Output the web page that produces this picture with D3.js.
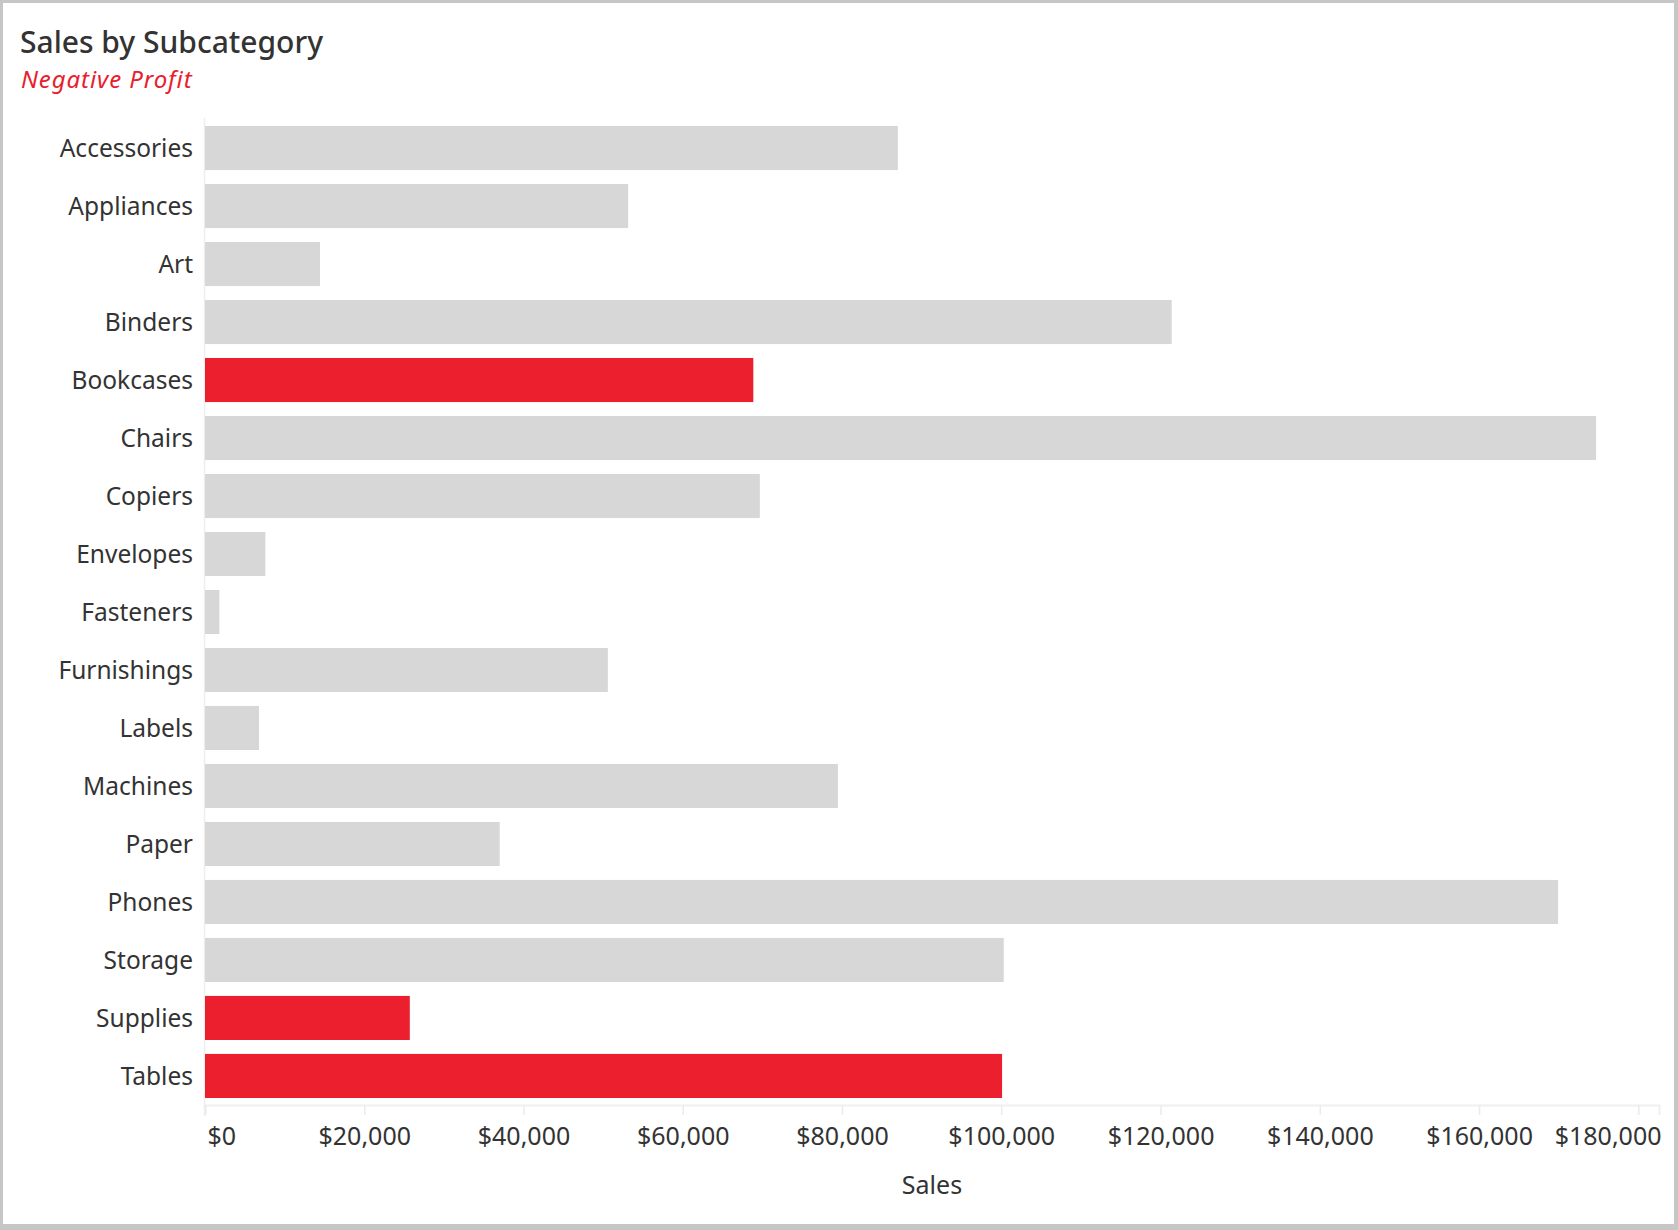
<!DOCTYPE html>
<html>
<head>
<meta charset="utf-8">
<script src="https://cdn.jsdelivr.net/npm/d3@7"></script>
<style>
  body { margin: 0; background: #fff; }
  text { font-family: "Noto Sans", sans-serif; }
</style>
</head>
<body>
<svg id="chart" width="1678" height="1230"></svg>
<script>
// Sales by subcategory, red = negative profit
var subcategories = ["Accessories", "Appliances", "Art", "Binders", "Bookcases", "Chairs", "Copiers",
  "Envelopes", "Fasteners", "Furnishings", "Labels", "Machines", "Paper", "Phones", "Storage",
  "Supplies", "Tables"];
var sales = [87010, 53140, 14440, 121400, 68860, 174700, 69680, 7580, 1810, 50590, 6780, 79480,
  37010, 169930, 100310, 25720, 100100];
var negativeProfit = ["Bookcases", "Supplies", "Tables"];
var xTicks = [0, 20000, 40000, 60000, 80000, 100000, 120000, 140000, 160000, 180000];

var data = subcategories.map(function (d, i) {
  return { name: d, sales: sales[i], neg: negativeProfit.indexOf(d) >= 0 };
});

var svg = d3.select("#chart");

// frame
svg.append("rect").attr("width", 1678).attr("height", 1230).attr("fill", "#c6c6c6");
svg.append("rect").attr("x", 3).attr("y", 3).attr("width", 1671).attr("height", 1221).attr("fill", "#fff");

svg.append("text").attr("x", 20).attr("y", 53)
  .attr("font-size", 30).attr("font-weight", 500).attr("fill", "#333")
  .text("Sales by Subcategory");
svg.append("text").attr("x", 21).attr("y", 88)
  .attr("font-size", 24).attr("font-style", "italic").attr("letter-spacing", 0.9)
  .attr("fill", "#e8202e")
  .text("Negative Profit");

var x = d3.scaleLinear().domain([0, 182600]).range([205, 1659]);
var y = d3.scaleBand().domain(subcategories).range([118, 1106])
  .paddingInner(0.24).paddingOuter(0.138);

// left zero line
svg.append("line").attr("x1", 204.5).attr("x2", 204.5).attr("y1", 118).attr("y2", 1116)
  .attr("stroke", "#eeeeee").attr("stroke-width", 1.5);

svg.append("g").selectAll("rect")
  .data(data)
  .join("rect")
  .attr("x", x(0))
  .attr("y", function (d) { return y(d.name); })
  .attr("width", function (d) { return x(d.sales) - x(0); })
  .attr("height", y.bandwidth())
  .attr("fill", function (d) { return d.neg ? "#eb1f2d" : "#d7d7d7"; });

// category labels
svg.append("g").selectAll("text")
  .data(subcategories)
  .join("text")
  .attr("x", 193)
  .attr("y", function (d) { return y(d) + y.bandwidth() / 2; })
  .attr("dy", "0.36em")
  .attr("text-anchor", "end")
  .attr("font-size", 24.5)
  .attr("fill", "#333")
  .text(function (d) { return d; });

// x axis
var xAxis = d3.axisBottom(x)
  .tickValues(xTicks)
  .tickSize(10)
  .tickPadding(12)
  .tickFormat(function (d) { return "$" + d3.format(",")(d); });

var gx = svg.append("g").attr("transform", "translate(0,1105)").call(xAxis);
gx.select(".domain").attr("stroke", "#f0f0f0").attr("stroke-width", 2);
gx.selectAll(".tick line").attr("stroke", "#ebebeb").attr("stroke-width", 1.5);
gx.selectAll(".tick text")
  .attr("font-size", 25)
  .attr("font-family", "Noto Sans, sans-serif")
  .attr("fill", "#333");
// first label starts at the tick, last one stays inside the plot
gx.selectAll(".tick text").filter(function (d) { return d === 0; })
  .attr("text-anchor", "start")
  .attr("x", 2);
gx.selectAll(".tick text").filter(function (d) { return d === 180000; })
  .attr("text-anchor", "end")
  .attr("x", x.range()[1] - x(180000) + 2);

svg.append("text")
  .attr("x", (x.range()[0] + x.range()[1]) / 2)
  .attr("y", 1194)
  .attr("text-anchor", "middle")
  .attr("font-size", 25)
  .attr("fill", "#333")
  .text("Sales");
</script>
</body>
</html>
